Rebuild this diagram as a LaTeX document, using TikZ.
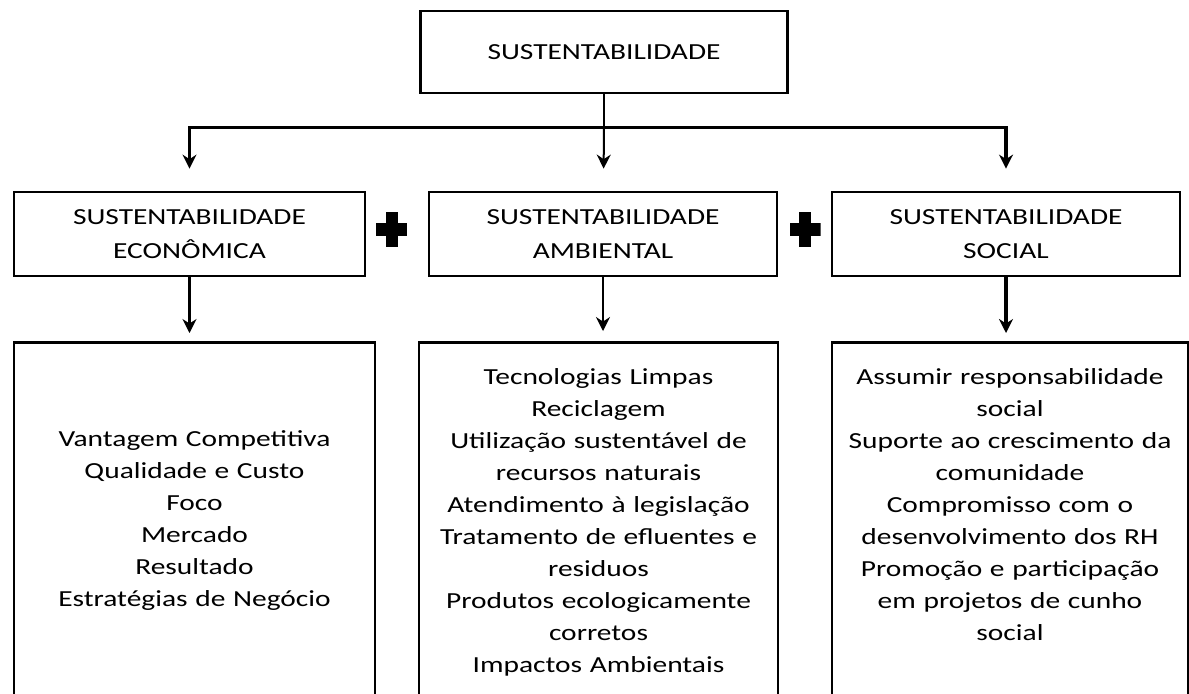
\documentclass[tikz,border=0pt]{standalone}
\usepackage{fontspec}
\setmainfont{Carlito}[FakeStretch=1.28]
\usetikzlibrary{arrows.meta,positioning}

\tikzstyle{block} = [rectangle, draw, line width=1.4pt, text centered, inner sep=0pt,
    font=\fontsize{11.5}{17}\selectfont]
\tikzstyle{listblock} = [rectangle, draw, line width=1.4pt, text centered, inner sep=0pt,
    anchor=north, font=\fontsize{11.5}{16}\selectfont]
\tikzstyle{line} = [draw, -{Stealth[length=7pt,width=7pt]}]
\tikzstyle{plus} = [rectangle, inner sep=0pt, minimum width=15.5pt, minimum height=17.5pt,
    path picture={\fill ([yshift=-3.25pt]path picture bounding box.west) rectangle ([yshift=3.25pt]path picture bounding box.east);
                  \fill ([xshift=-3pt]path picture bounding box.south) rectangle ([xshift=3pt]path picture bounding box.north);}]

\begin{document}
\begin{tikzpicture}[x=0.5pt, y=-0.5pt, thick]
    \useasboundingbox (0,0) rectangle (1189,693);
    \clip (0,0) rectangle (1189,693);

    \node [block, minimum width=183.5pt, minimum height=41pt] (Sust) at (604,52) {SUSTENTABILIDADE};
    \coordinate [below=16.5pt of Sust.south] (Bus);

    \node [block, text width=175.5pt, minimum height=42pt] (Econ) at (189.5,234) {SUSTENTABILIDADE\\ECONÔMICA};
    \node [block, text width=174pt, minimum height=42pt] (Amb) at (603,234) {SUSTENTABILIDADE\\AMBIENTAL};
    \node [block, text width=174pt, minimum height=42pt] (Soc) at (1006,234) {SUSTENTABILIDADE\\SOCIAL};

    \node [plus] (PlusA) at (391.5,229.5) {};
    \node [plus] (PlusB) at (805,229.5) {};

    \node [listblock, text width=180.5pt, text height=52pt, text depth=170pt] (EconList) at (194.5,341)
        {Vantagem Competitiva\\Qualidade e Custo\\Foco\\Mercado\\Resultado\\Estratégias de Negócio};
    \node [listblock, text width=179.5pt, text height=21pt, text depth=170pt] (AmbList) at (598.5,341)
        {Tecnologias Limpas\\Reciclagem\\Utilização sustentável de\\recursos naturais\\Atendimento à legislação\\Tratamento de efluentes e\\residuos\\Produtos ecologicamente\\corretos\\Impactos Ambientais};
    \node [listblock, text width=178pt, text height=21pt, text depth=170pt] (SocList) at (1010,341)
        {Assumir responsabilidade\\social\\Suporte ao crescimento da\\comunidade\\Compromisso com o\\desenvolvimento dos RH\\Promoção e participação\\em projetos de cunho\\social};

    \draw [line width=1pt] (Sust) -- (Bus);
    \path [line, line width=1.1pt, shorten >=11pt] (Bus) -| (Econ);
    \path [line, line width=1pt, shorten >=11pt] (Bus) -- (Amb);
    \path [line, line width=1.8pt, shorten >=11pt] (Bus) -| (Soc);

    \path [line, line width=1.1pt, shorten >=4pt] (Econ) -- (Econ |- EconList.north);
    \path [line, line width=0.8pt, shorten >=5pt] (Amb) -- (Amb |- AmbList.north);
    \path [line, line width=1.8pt, shorten >=4pt] (Soc) -- (Soc |- SocList.north);
\end{tikzpicture}
\end{document}
